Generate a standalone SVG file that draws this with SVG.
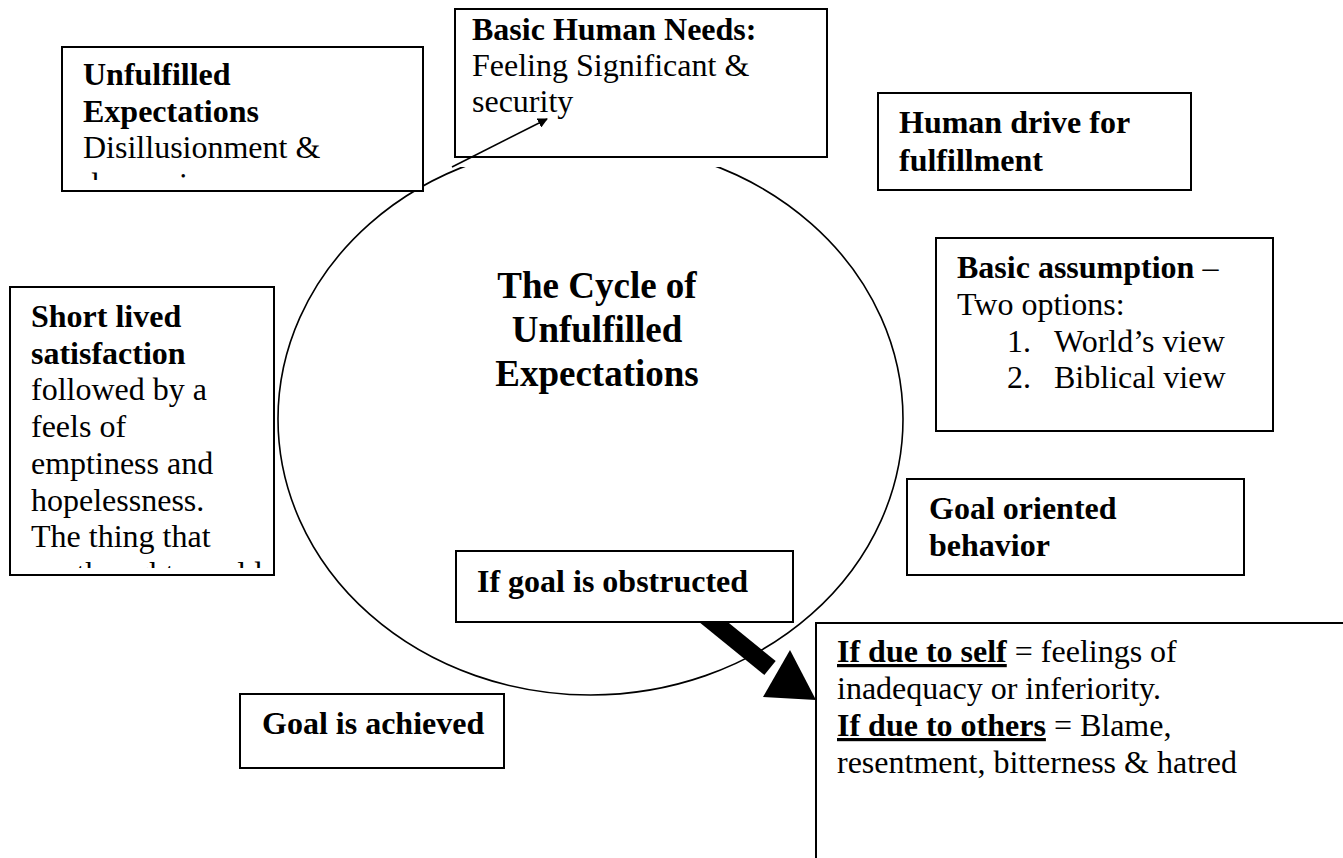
<svg xmlns="http://www.w3.org/2000/svg" width="1343" height="858" viewBox="0 0 1343 858">
<style>
.box{fill:#fff;stroke:#000;stroke-width:2}
text{font-family:"Liberation Serif","Times New Roman",serif;font-size:32px;fill:#000}
.b{font-weight:bold}
.u{text-decoration:underline}
.title{font-size:37px;font-weight:bold}
</style>
<defs>
<marker id="ah" markerWidth="10" markerHeight="10" refX="9" refY="5" orient="auto" markerUnits="userSpaceOnUse" viewBox="0 0 10 10">
<path d="M0,0 L10,5 L0,10 Z" fill="#000"/>
</marker>
<clipPath id="clipUnf"><rect x="63" y="48" width="359" height="132"/></clipPath>
<clipPath id="clipShort"><rect x="11" y="288" width="262" height="280"/></clipPath>
</defs>
<rect width="1343" height="858" fill="#fff"/>

<g id="cycle">
<ellipse cx="590.5" cy="419" rx="312.5" ry="276" fill="none" stroke="#000" stroke-width="1.6"/>
<rect x="440" y="140" width="300" height="27" fill="#fff"/>
<text class="title" x="597" y="298" text-anchor="middle">The Cycle of</text>
<text class="title" x="597" y="342" text-anchor="middle">Unfulfilled</text>
<text class="title" x="597" y="386" text-anchor="middle">Expectations</text>
</g>

<g id="connectors">
<path d="M690,603 L770,668" stroke="#000" stroke-width="18" fill="none"/>
<polygon points="763,697 790,650 816,700" fill="#000"/>
</g>

<g id="unfulfilled">
<rect class="box" x="62" y="47" width="361" height="144"/>
<g clip-path="url(#clipUnf)">
<text class="b" x="83" y="85">Unfulfilled</text>
<text class="b" x="83" y="121.5">Expectations</text>
<text x="83" y="158">Disillusionment &amp;</text>
<text x="83" y="195">depression</text>
</g>
</g>

<g id="basic-needs">
<rect class="box" x="455" y="9" width="372" height="148"/>
<text class="b" x="472" y="40">Basic Human Needs:</text>
<text x="472" y="76">Feeling Significant &amp;</text>
<text x="472" y="112">security</text>
</g>

<g id="connector-top">
<line x1="452" y1="167" x2="547" y2="119" stroke="#000" stroke-width="1.6" marker-end="url(#ah)"/>
</g>

<g id="human-drive">
<rect class="box" x="878" y="93" width="313" height="97"/>
<text class="b" x="899" y="133">Human drive for</text>
<text class="b" x="899" y="171">fulfillment</text>
</g>

<g id="basic-assumption">
<rect class="box" x="936" y="238" width="337" height="193"/>
<text x="957" y="278"><tspan class="b">Basic assumption</tspan> –</text>
<text x="957" y="315">Two options:</text>
<text x="1007" y="352">1.</text>
<text x="1054" y="352">World’s view</text>
<text x="1007" y="388">2.</text>
<text x="1054" y="388">Biblical view</text>
</g>

<g id="short-lived">
<rect class="box" x="10" y="287" width="264" height="288"/>
<g clip-path="url(#clipShort)">
<text class="b" x="31" y="327">Short lived</text>
<text class="b" x="31" y="363.7">satisfaction</text>
<text x="31" y="400.4">followed by a</text>
<text x="31" y="437.1">feels of</text>
<text x="31" y="473.8">emptiness and</text>
<text x="31" y="510.5">hopelessness.</text>
<text x="31" y="547.2">The thing that</text>
<text x="31" y="583.9">we thought would</text>
</g>
</g>

<g id="goal-oriented">
<rect class="box" x="907" y="479" width="337" height="96"/>
<text class="b" x="929" y="519">Goal oriented</text>
<text class="b" x="929" y="556">behavior</text>
</g>

<g id="obstructed">
<rect class="box" x="456" y="551" width="337" height="71"/>
<text class="b" x="477" y="592">If goal is obstructed</text>
</g>

<g id="goal-achieved">
<rect class="box" x="240" y="694" width="264" height="74"/>
<text class="b" x="262" y="734">Goal is achieved</text>
</g>

<g id="outcomes">
<rect class="box" x="816" y="623" width="540" height="250"/>
<text x="837" y="662"><tspan class="b u">If due to self</tspan> = feelings of</text>
<text x="837" y="699">inadequacy or inferiority.</text>
<text x="837" y="736"><tspan class="b u">If due to others</tspan> = Blame,</text>
<text x="837" y="773">resentment, bitterness &amp; hatred</text>
</g>
</svg>
